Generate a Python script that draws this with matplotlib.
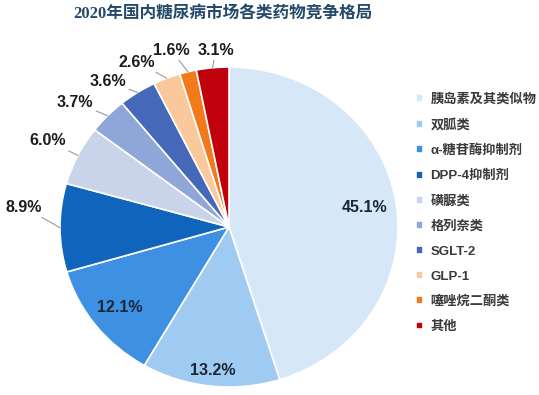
import numpy as np
import matplotlib
matplotlib.use("Agg")
import matplotlib.pyplot as plt

plt.rcParams['font.family'] = ['Liberation Sans', 'Noto Sans CJK SC', 'DejaVu Sans']

# ---- data ----
categories = ['胰岛素及其类似物', '双胍类', 'α-糖苷酶抑制剂', 'DPP-4抑制剂', '磺脲类',
              '格列奈类', 'SGLT-2', 'GLP-1', '噻唑烷二酮类', '其他']
shares = [45.1, 13.2, 12.1, 8.9, 6.0, 3.7, 3.6, 2.6, 1.6, 3.1]
value_labels = ['45.1%', '13.2%', '12.1%', '8.9%', '6.0%', '3.7%', '3.6%', '2.6%', '1.6%', '3.1%']
title = '2020年国内糖尿病市场各类药物竞争格局'

# ---- style ----
colors = ['#d6e8f8', '#9fcaf2', '#3d90e2', '#1064bb', '#c9d3ea',
          '#8ea7d8', '#4568b9', '#f9c99c', '#f27a1a', '#c0000b']
# inside label distances (fraction of radius); None -> outside label with leader line
inside_dist = [0.81, 0.90, 0.82, None, None, None, None, None, None, None]
# outside label positions (pie radius units, layout only)
outside_pos = {3: (-1.213, 0.125), 4: (-1.071, 0.54), 5: (-0.911, 0.781),
               6: (-0.716, 0.912), 7: (-0.544, 1.031), 8: (-0.343, 1.106),
               9: (-0.077, 1.106)}

W, H = 539, 395
fig = plt.figure(figsize=(W / 100, H / 100), dpi=100)
fig.patch.set_facecolor('white')

cx, cy, rx, ry = 229, 227, 169, 160
ax = fig.add_axes([(cx - rx) / W, (H - cy - ry) / H, 2 * rx / W, 2 * ry / H])
wedges, _ = ax.pie(shares, colors=colors, startangle=90, counterclock=False,
                   wedgeprops=dict(edgecolor='white', linewidth=1.2))
ax.set_aspect('auto')
ax.set_xlim(-1, 1)
ax.set_ylim(-1, 1)
ax.axis('off')

for i, w in enumerate(wedges):
    mid = np.deg2rad((w.theta1 + w.theta2) / 2)
    ux, uy = np.cos(mid), np.sin(mid)
    if inside_dist[i] is not None:
        d = inside_dist[i]
        ax.text(d * ux, d * uy, value_labels[i], ha='center', va='center',
                fontsize=11.5, fontweight='bold', color='#1c2636')
    else:
        tx, ty = outside_pos[i]
        ax.annotate(value_labels[i], xy=(ux, uy), xytext=(tx, ty),
                    ha='center', va='center', fontsize=11.5, fontweight='bold',
                    color='#1c1c1c', annotation_clip=False,
                    arrowprops=dict(arrowstyle='-', color='#9a9a9a', lw=0.8,
                                    shrinkA=0, shrinkB=0))

fig.text(223 / W, 1 - 14 / H, title, ha='center', va='center', fontsize=12,
         fontweight='bold', color='#24496b',
         family=['Liberation Serif', 'Noto Sans CJK SC'])

leg = fig.legend(wedges, categories, loc='upper left',
                 bbox_to_anchor=(416 / W, 1 - 93 / H), frameon=False,
                 handlelength=0.55, handleheight=0.55, handletextpad=0.55,
                 labelspacing=0.98, borderaxespad=0, borderpad=0,
                 prop=dict(family=['Liberation Sans', 'Noto Sans CJK SC'],
                           size=9.5, weight='bold'))
for t in leg.get_texts():
    t.set_color('#3a3a3a')

fig.savefig('out.png', dpi=100, facecolor='white')
